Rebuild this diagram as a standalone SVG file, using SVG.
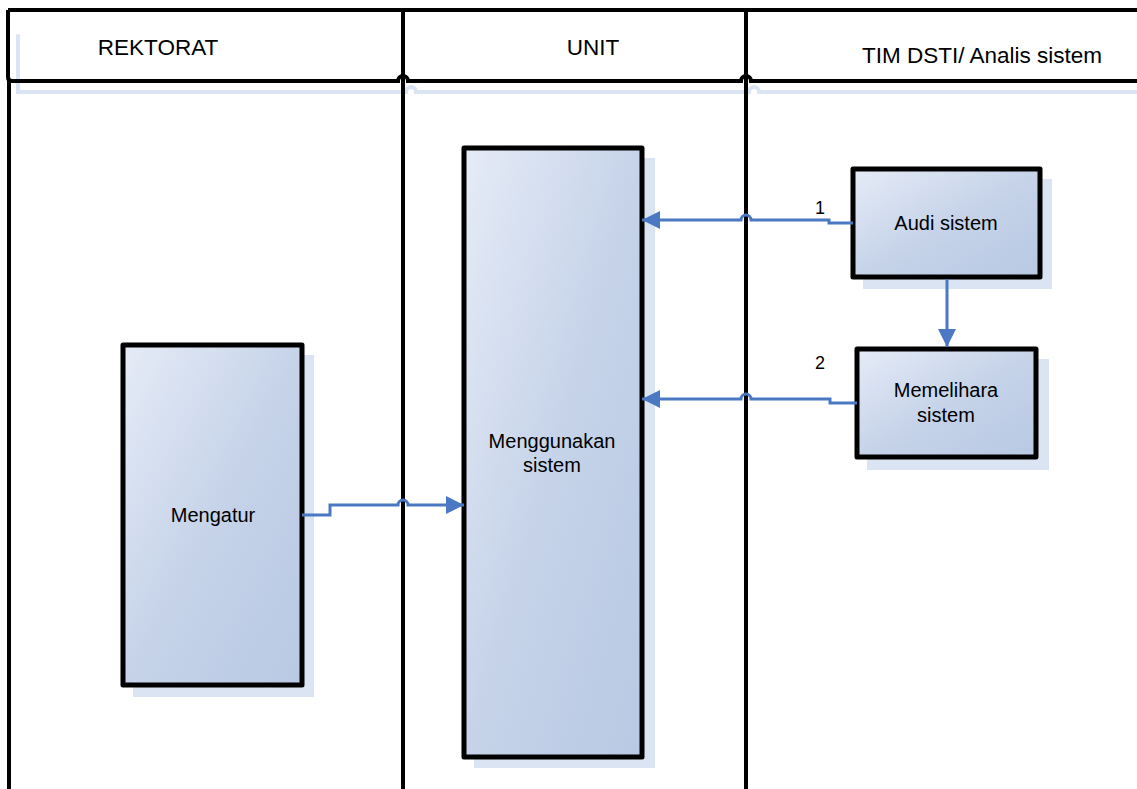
<svg xmlns="http://www.w3.org/2000/svg" width="1137" height="789" viewBox="0 0 1137 789">
<style>
.lane{stroke:#000;stroke-width:4;fill:none}
.hsh{stroke:#dbe4f3;stroke-width:4;fill:none;stroke-linecap:round}
.hdr{font-family:"Liberation Sans",Arial,sans-serif;font-size:22.5px;fill:#000;text-anchor:middle}
.lbl{font-family:"Liberation Sans",Arial,sans-serif;font-size:20px;fill:#000;text-anchor:middle}
.num{font-family:"Liberation Sans",Arial,sans-serif;font-size:18px;fill:#000;text-anchor:middle}
.box{fill:url(#g);stroke:#000;stroke-width:5;stroke-linejoin:round}
.sh{fill:#dbe4f3}
.con{stroke:#4a78c2;stroke-width:3;fill:none}
</style>
<defs>
<linearGradient id="g" x1="0" y1="0" x2="1" y2="1">
<stop offset="0" stop-color="#e6ecf7"/>
<stop offset="0.5" stop-color="#c6d3e9"/>
<stop offset="1" stop-color="#b8c9e3"/>
</linearGradient>
<marker id="arr" markerUnits="userSpaceOnUse" markerWidth="18" markerHeight="18" viewBox="0 0 18 18" refX="18" refY="9" orient="auto">
<path d="M0,0 L18,9 L0,18 z" fill="#4a78c2"/>
</marker>
</defs>
<g id="lanes">
<path class="hsh" d="M18,36 V92 H406 A5,5 0 0 1 416,92 H749 A5,5 0 0 1 759,92 H1137"/>
<path class="lane" d="M8,10 H1137"/>
<path class="lane" d="M8,10 V77 Q8,81 12,81 H398 A5,5 0 0 1 408,81 H741 A5,5 0 0 1 751,81 H1137"/>
<path class="lane" d="M9,81 V789"/>
<path class="lane" d="M403,10 V789"/>
<path class="lane" d="M746,10 V789"/>
<text class="hdr" x="158" y="55">REKTORAT</text>
<text class="hdr" x="593" y="55">UNIT</text>
<text class="hdr" x="982" y="63">TIM DSTI/ Analis sistem</text>
</g>
<g id="mengatur">
<rect class="sh" x="133" y="355" width="181" height="342"/>
<rect class="box" x="123" y="345" width="179" height="340"/>
<text class="lbl" x="213" y="522">Mengatur</text>
</g>
<g id="menggunakan">
<rect class="sh" x="474" y="158" width="181" height="610"/>
<rect class="box" x="464" y="148" width="178" height="609"/>
<text class="lbl" x="552" y="448">Menggunakan</text>
<text class="lbl" x="552" y="472">sistem</text>
</g>
<g id="audi">
<rect class="sh" x="863" y="179" width="189" height="110"/>
<rect class="box" x="853" y="169" width="187" height="108"/>
<text class="lbl" x="946" y="230">Audi sistem</text>
</g>
<g id="memelihara">
<rect class="sh" x="867" y="359" width="182" height="111"/>
<rect class="box" x="857" y="349" width="179" height="108"/>
<text class="lbl" x="946" y="397">Memelihara</text>
<text class="lbl" x="946" y="422">sistem</text>
</g>
<g id="connectors">
<path class="con" d="M853,223 H829 V220 H751 A5,5 0 0 0 741,220 H642" marker-end="url(#arr)"/>
<path class="con" d="M857,403 H830 V399 H751 A5,5 0 0 0 741,399 H642" marker-end="url(#arr)"/>
<path class="con" d="M302,515 H330 V505 H398 A5,5 0 0 1 408,505 H464" marker-end="url(#arr)"/>
<path class="con" d="M947,279 V347" marker-end="url(#arr)"/>
<text class="num" x="820" y="214">1</text>
<text class="num" x="820" y="369">2</text>
</g>
</svg>
